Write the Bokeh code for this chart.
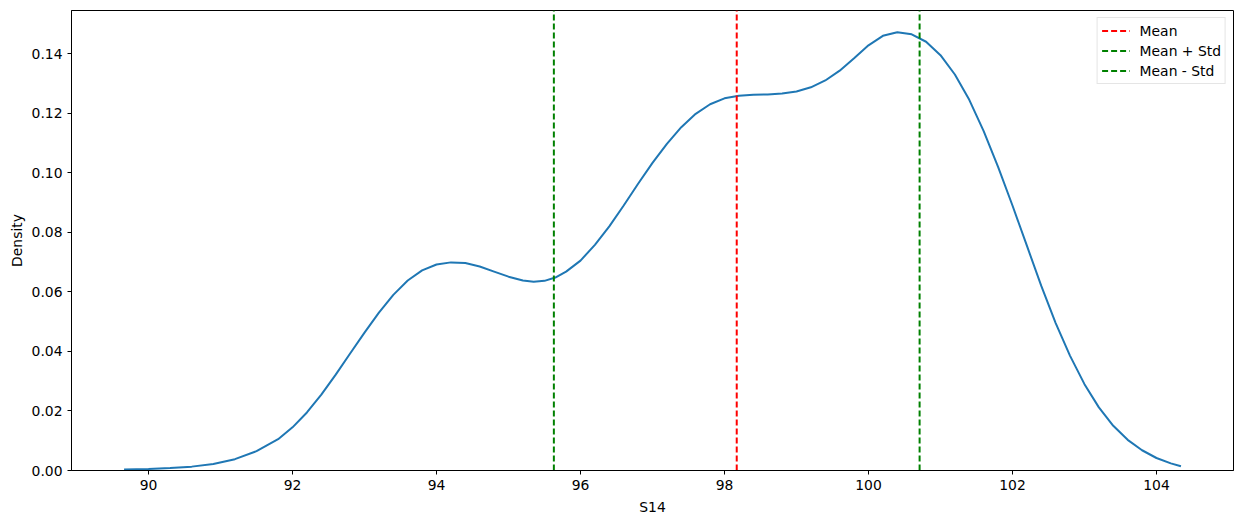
from bokeh.plotting import figure
from bokeh.models import FixedTicker, Range1d, Legend, LegendItem
from bokeh.embed import file_html
from bokeh.resources import INLINE

# KDE curve of S14
kde_x = [89.66, 90.0, 90.3, 90.6, 90.9, 91.2, 91.5, 91.8, 92.0, 92.2, 92.4, 92.6,
         92.8, 93.0, 93.2, 93.4, 93.6, 93.8, 94.0, 94.2, 94.4, 94.6, 94.8, 95.0,
         95.2, 95.35, 95.5, 95.65, 95.8, 96.0, 96.2, 96.4, 96.6, 96.8, 97.0, 97.2,
         97.4, 97.6, 97.8, 98.0, 98.2, 98.4, 98.6, 98.8, 99.0, 99.2, 99.4, 99.6,
         99.8, 100.0, 100.2, 100.4, 100.6, 100.8, 101.0, 101.2, 101.4, 101.6,
         101.8, 102.0, 102.2, 102.4, 102.6, 102.8, 103.0, 103.2, 103.4, 103.6,
         103.8, 104.0, 104.2, 104.34]
kde_y = [0.0003, 0.0005, 0.0008, 0.0013, 0.0022, 0.0038, 0.0065, 0.0105, 0.0145,
         0.0195, 0.0255, 0.0322, 0.0393, 0.0463, 0.0530, 0.0590, 0.0638, 0.0672,
         0.0692, 0.0699, 0.0697, 0.0685, 0.0668, 0.0651, 0.0638, 0.0634, 0.0637,
         0.0648, 0.0668, 0.0705, 0.0758, 0.0820, 0.0890, 0.0963, 0.1033, 0.1097,
         0.1153, 0.1198, 0.1230, 0.1250, 0.1259, 0.1262, 0.1263, 0.1266, 0.1273,
         0.1287, 0.1310, 0.1343, 0.1385, 0.1428, 0.1460, 0.1472, 0.1465, 0.1440,
         0.1395, 0.1330, 0.1245, 0.1140, 0.1020, 0.0890, 0.0755, 0.0620, 0.0495,
         0.0385, 0.0290, 0.0212, 0.0150, 0.0103, 0.0068, 0.0042, 0.0024, 0.0014]

mean_val = 98.17
std_val = 2.54

x_ticks = [90, 92, 94, 96, 98, 100, 102, 104]
y_ticks = [0.0, 0.02, 0.04, 0.06, 0.08, 0.10, 0.12, 0.14]
y_tick_labels = ["0.00", "0.02", "0.04", "0.06", "0.08", "0.10", "0.12", "0.14"]

FONT = "DejaVu Sans"
FS = "13.9px"

x0, x1 = 88.93, 105.07
y0, y1 = 0.0, 0.1545

p = figure(width=1236, height=517, output_backend="svg", toolbar_location=None,
           x_range=Range1d(x0, x1), y_range=Range1d(y0, y1),
           min_border_left=71, min_border_right=3, min_border_top=10,
           min_border_bottom=47)

p.xgrid.visible = False
p.ygrid.visible = False
p.outline_line_color = "black"
p.outline_line_width = 1
p.outline_line_alpha = 1

p.line(kde_x, kde_y, line_color="#1f77b4", line_width=2)

r_mean = p.line([mean_val, mean_val], [y0, y1], line_color="red",
                line_width=2, line_dash="6 3")
r_plus = p.line([mean_val + std_val, mean_val + std_val], [y0, y1],
                line_color="green", line_width=2, line_dash="6 3")
r_minus = p.line([mean_val - std_val, mean_val - std_val], [y0, y1],
                 line_color="green", line_width=2, line_dash="6 3")

legend = Legend(items=[LegendItem(label="Mean", renderers=[r_mean]),
                       LegendItem(label="Mean + Std", renderers=[r_plus]),
                       LegendItem(label="Mean - Std", renderers=[r_minus])],
                location="top_right")
legend.margin = 7
legend.padding = 4
legend.spacing = 3
legend.glyph_height = 17
legend.label_height = 17
legend.glyph_width = 28
legend.label_standoff = 10
legend.label_text_font = FONT
legend.label_text_font_size = FS
legend.label_text_color = "black"
legend.border_line_color = "#cccccc"
legend.border_line_width = 1
legend.background_fill_alpha = 0.8
p.add_layout(legend)

p.xaxis.ticker = FixedTicker(ticks=x_ticks)
p.yaxis.ticker = FixedTicker(ticks=y_ticks)
p.yaxis.major_label_overrides = {t: l for t, l in zip(y_ticks, y_tick_labels)}
p.xaxis.major_label_overrides = {t: str(t) for t in x_ticks}

for ax in (p.xaxis, p.yaxis):
    ax.minor_tick_line_color = None
    ax.major_tick_out = 4
    ax.major_tick_in = 0
    ax.axis_line_color = "black"
    ax.major_tick_line_color = "black"
    ax.major_label_text_font = FONT
    ax.major_label_text_font_size = FS
    ax.major_label_text_color = "black"
    ax.axis_label_text_font = FONT
    ax.axis_label_text_font_size = FS
    ax.axis_label_text_font_style = "normal"
    ax.axis_label_text_color = "black"

p.xaxis.axis_label = "S14"
p.yaxis.axis_label = "Density"
p.xaxis.major_label_standoff = 5
p.yaxis.major_label_standoff = 5
p.xaxis.axis_label_standoff = 6
p.yaxis.axis_label_standoff = 4

open("out.html", "w").write(file_html(p, INLINE))
